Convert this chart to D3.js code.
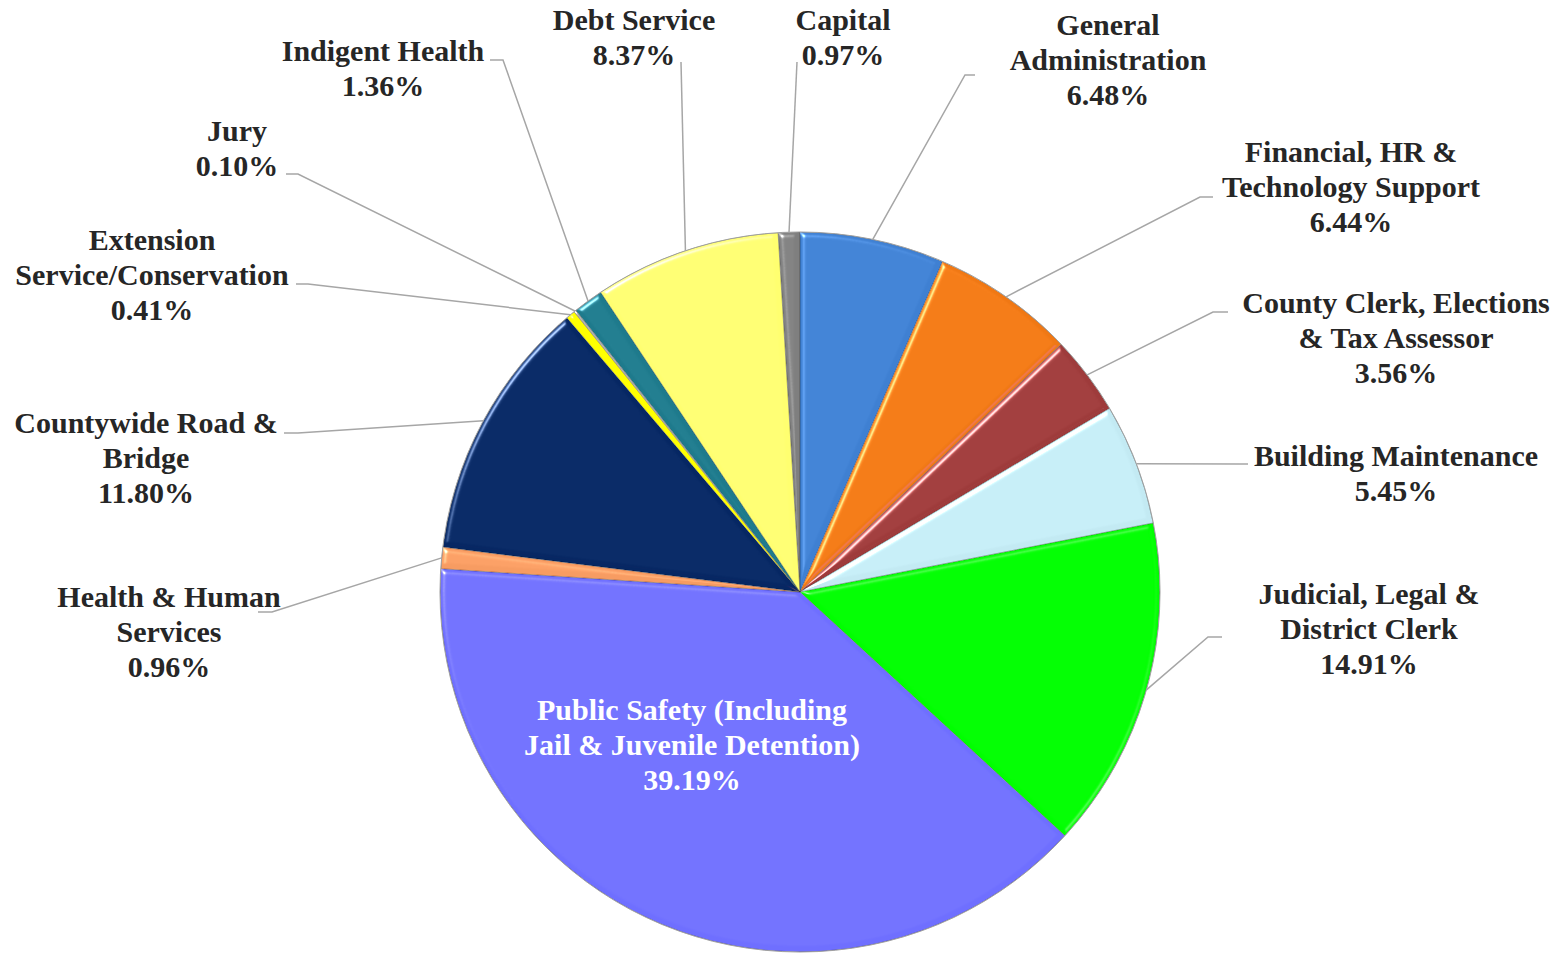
<!DOCTYPE html>
<html>
<head>
<meta charset="utf-8">
<script src="https://cdn.jsdelivr.net/npm/d3@7"></script>
<style>
  body { margin: 0; background: #ffffff; }
</style>
</head>
<body>
<div id="chart"></div>
<script>
// Chart data, clockwise from 12 o'clock
var categories = [
  "General Administration",
  "Financial, HR & Technology Support",
  "County Clerk, Elections & Tax Assessor",
  "Building Maintenance",
  "Judicial, Legal & District Clerk",
  "Public Safety (Including Jail & Juvenile Detention)",
  "Health & Human Services",
  "Countywide Road & Bridge",
  "Extension Service/Conservation",
  "Jury",
  "Indigent Health",
  "Debt Service",
  "Capital"
];
var shares = [6.48, 6.44, 3.56, 5.45, 14.91, 39.19, 0.96, 11.80, 0.41, 0.10, 1.36, 8.37, 0.97];
var colors = ["#3f80d2", "#f07814", "#9e3b3b", "#c3eaf3", "#00ff00", "#6f6fff",
              "#f79c62", "#062763", "#ffff00", "#b0b0b0", "#1e7a8c", "#ffff70", "#7f7f7f"];
// label text broken into lines as in the original
var labelLines = [
  ["General", "Administration"],
  ["Financial, HR &", "Technology Support"],
  ["County Clerk, Elections", "& Tax Assessor"],
  ["Building Maintenance"],
  ["Judicial, Legal &", "District Clerk"],
  ["Public Safety (Including", "Jail & Juvenile Detention)"],
  ["Health & Human", "Services"],
  ["Countywide Road &", "Bridge"],
  ["Extension", "Service/Conservation"],
  ["Jury"],
  ["Indigent Health"],
  ["Debt Service"],
  ["Capital"]
];

// layout
var svgWidth = 1566;
var svgHeight = 954;
var cx = 800, cy = 592, radius = 360;
var lineHeight = 35;

// label anchor (centre x, first baseline) and leader line points from the label to the slice
var labelLayout = [
  { x: 1108, y: 35,  leader: [[975, 75], [965, 75]] },
  { x: 1351, y: 162, leader: [[1213, 197], [1200, 197]] },
  { x: 1396, y: 313, leader: [[1228, 312], [1213, 312]] },
  { x: 1396, y: 466, leader: [[1248, 464], [1240, 464]] },
  { x: 1369, y: 604, leader: [[1222, 637], [1208, 637]] },
  { x: 692,  y: 720, inside: true },
  { x: 169,  y: 607, leader: [[258, 612], [272, 612]] },
  { x: 146,  y: 433, leader: [[284, 433], [298, 433]] },
  { x: 152,  y: 250, leader: [[296, 284], [308, 284]] },
  { x: 237,  y: 141, leader: [[286, 174], [298, 174]] },
  { x: 383,  y: 61,  leader: [[490, 60], [503, 60]] },
  { x: 634,  y: 30,  leader: [[681, 62], [681, 62]] },
  { x: 843,  y: 30,  leader: [[797, 62], [797, 62]] }
];

var svg = d3.select("#chart")
  .append("svg")
  .attr("width", svgWidth)
  .attr("height", svgHeight)
  .style("font-family", "'Liberation Serif', 'Times New Roman', serif");

// soft bevel like the office chart: light top-left edge, dark bottom-right edge
var defs = svg.append("defs");
var bevel = defs.append("filter").attr("id", "bevel")
  .attr("color-interpolation-filters", "sRGB")
  .attr("x", "-5%").attr("y", "-5%").attr("width", "110%").attr("height", "110%");
bevel.append("feGaussianBlur").attr("in", "SourceAlpha").attr("stdDeviation", 2.5).attr("result", "blur");
bevel.append("feSpecularLighting")
  .attr("in", "blur").attr("surfaceScale", 4).attr("specularConstant", 0.7)
  .attr("specularExponent", 25).attr("lighting-color", "#ffffff").attr("result", "spec")
  .append("feDistantLight").attr("azimuth", 225).attr("elevation", 30);
bevel.append("feComposite").attr("in", "spec").attr("in2", "SourceAlpha")
  .attr("operator", "in").attr("result", "specIn");
bevel.append("feSpecularLighting")
  .attr("in", "blur").attr("surfaceScale", 4).attr("specularConstant", 0.5)
  .attr("specularExponent", 25).attr("lighting-color", "#ffffff").attr("result", "shade")
  .append("feDistantLight").attr("azimuth", 45).attr("elevation", 30);
bevel.append("feComposite").attr("in", "shade").attr("in2", "SourceAlpha")
  .attr("operator", "in").attr("result", "shadeIn");
bevel.append("feComposite").attr("in", "SourceGraphic").attr("in2", "specIn")
  .attr("operator", "arithmetic").attr("k1", 0).attr("k2", 1).attr("k3", 1).attr("k4", 0)
  .attr("result", "lit");
bevel.append("feComposite").attr("in", "lit").attr("in2", "shadeIn")
  .attr("operator", "arithmetic").attr("k1", 0).attr("k2", 1).attr("k3", -0.6).attr("k4", 0)
  .attr("result", "litShade");
bevel.append("feComposite").attr("in", "litShade").attr("in2", "SourceAlpha").attr("operator", "in");

var pie = d3.pie().sort(null).value((d) => d.value);
var arc = d3.arc().innerRadius(0).outerRadius(radius);

var rows = categories.map((c, i) => ({ name: c, value: shares[i], color: colors[i], lines: labelLines[i], layout: labelLayout[i] }));
var arcs = pie(rows);

var chartGroup = svg.append("g").attr("transform", `translate(${cx}, ${cy})`);

chartGroup.selectAll("path.slice")
  .data(arcs)
  .enter()
  .append("path")
  .attr("class", "slice")
  .attr("d", arc)
  .attr("fill", (d) => d.data.color)
  .attr("stroke", "rgba(0,0,0,0.3)")
  .attr("stroke-width", 1)
  .attr("filter", "url(#bevel)");

// thin grey rim round the pie
chartGroup.append("circle")
  .attr("r", radius)
  .attr("fill", "none")
  .attr("stroke", "#a0a0a0")
  .attr("stroke-width", 1);

// leader lines
var lineGroup = svg.append("g");
arcs.forEach(function (d) {
  var lay = d.data.layout;
  if (lay.inside) return;
  var mid = (d.startAngle + d.endAngle) / 2;
  var px = cx + radius * Math.sin(mid);
  var py = cy - radius * Math.cos(mid);
  var pts = lay.leader.concat([[px, py]]);
  lineGroup.append("path")
    .attr("d", d3.line()(pts))
    .attr("fill", "none")
    .attr("stroke", "#a6a6a6")
    .attr("stroke-width", 1.5);
});

// labels
var labelGroup = svg.append("g");
arcs.forEach(function (d) {
  var lay = d.data.layout;
  var lines = d.data.lines.concat([d.data.value.toFixed(2) + "%"]);
  var text = labelGroup.append("text")
    .attr("text-anchor", "middle")
    .attr("font-size", "30px")
    .attr("font-weight", "bold")
    .attr("fill", lay.inside ? "#ffffff" : "#262626");
  lines.forEach(function (ln, j) {
    text.append("tspan")
      .attr("x", lay.x)
      .attr("y", lay.y + j * lineHeight)
      .text(ln);
  });
});
</script>
</body>
</html>
